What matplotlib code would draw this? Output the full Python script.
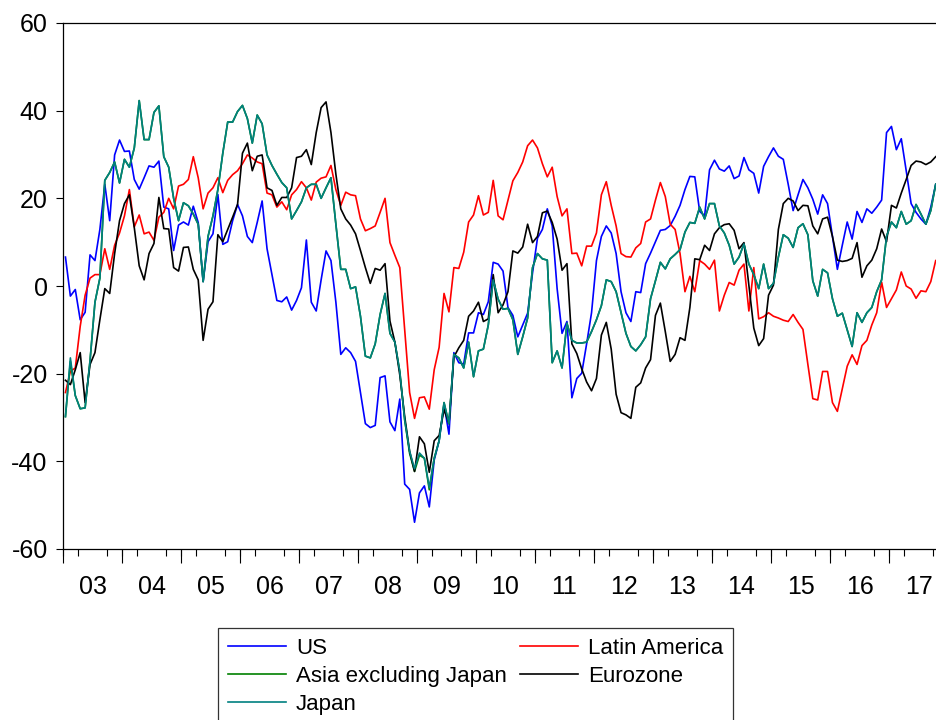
import numpy as np
import pandas as pd
import matplotlib
matplotlib.use("Agg")
import matplotlib.pyplot as plt
from matplotlib.ticker import FixedLocator, MultipleLocator, NullFormatter

plt.rcParams['font.family'] = ['Liberation Sans', 'DejaVu Sans']
plt.rcParams['axes.unicode_minus'] = False

# monthly readings, 2003m1 - 2017m10
start = '2003-01'

us = [6.6, -2.3, -0.8, -7.7, -6.0, 7.1, 5.8, 12.9, 23.2, 14.9, 29.9, 33.3, 30.7, 30.8, 24.3, 22.1, 24.7, 27.4, 27.1, 28.5, 18.0, 17.6,
      8.1, 13.9, 14.6, 13.9, 18.2, 14.5, 1.0, 10.1, 11.9, 20.9, 9.5, 10.1, 14.9, 18.6, 16.0, 11.3, 9.9, 14.5, 19.4, 8.5, 2.6, -3.3,
      -3.6, -2.5, -5.5, -3.3, -0.4, 10.5, -3.7, -5.7, 1.4, 8.0, 5.8, -3.7, -15.6, -14.1, -15.2, -17.2, -24.3, -31.4, -32.3, -31.8, -20.9, -20.5, -31.0,
      -33.0, -25.8, -45.2, -46.4, -53.9, -47.2, -45.6, -50.4, -39.7, -35.3, -27.0, -33.8, -15.2, -17.5, -17.8, -10.7, -10.7, -6.1, -6.5, -3.6, 5.4, 5.0,
      3.4, -4.9, -6.7, -11.6, -8.9, -6.2, 3.0, 10.9, 12.9, 17.6, 13.7, -0.6, -10.8, -8.1, -25.5, -21.1, -19.9, -13.2, -6.1, 5.8, 11.3, 13.7,
      12.1, 7.4, -1.3, -6.1, -8.1, -1.3, -1.5, 5.1, 7.5, 10.1, 12.7, 12.9, 13.8, 15.9, 18.4, 22.0, 25.0, 24.9, 17.0, 16.0, 26.5, 28.7, 26.7,
      26.2, 27.4, 24.5, 25.1, 29.3, 26.5, 25.7, 21.2, 27.3, 29.5, 31.5, 29.6, 28.9, 23.2, 17.2, 20.8, 24.3, 22.4, 19.8, 16.4, 20.8, 18.8,
      11.3, 3.8, 9.3, 14.6, 10.7, 17.0, 14.5, 17.6, 16.6, 18.0, 19.6, 35.0, 36.4, 31.1, 33.6, 26.3, 18.8, 16.8, 15.3, 14.1, 18.0, 23.2]

latam = [-24.3, -19.5, -18.7, -9.2, -2.1, 1.8, 2.6, 2.6, 8.5, 3.8, 9.3, 12.1, 16.0, 22.0, 13.5, 16.2, 11.9, 12.3, 10.4, 15.7, 16.8, 20.0,
         17.6, 22.8, 23.2, 24.3, 29.5, 24.7, 17.6, 21.2, 22.4, 24.7, 21.3, 24.1, 25.4, 26.3, 27.9, 29.9, 29.2, 28.3, 27.9, 21.2, 20.8, 18.0,
         19.2, 17.4, 20.8, 22.0, 23.8, 22.4, 19.6, 23.7, 24.6, 24.9, 27.5, 22.0, 18.4, 21.4, 20.8, 20.6, 15.3, 12.6, 13.1, 13.7, 16.8, 20.0, 9.9,
         7.0, 4.2, -10.0, -24.3, -30.2, -25.5, -25.3, -28.1, -19.1, -14.0, -1.7, -5.9, 4.2, 4.0, 7.7, 14.6, 16.2, 20.6, 16.2, 16.8, 24.1, 16.0,
         15.1, 19.6, 24.0, 25.9, 28.3, 32.0, 33.3, 31.5, 27.9, 24.9, 27.1, 20.4, 16.0, 17.6, 7.4, 7.5, 4.6, 9.1, 9.1, 12.1, 20.8, 23.8,
         18.4, 13.7, 7.4, 6.7, 6.6, 8.7, 9.7, 14.6, 15.3, 19.6, 23.6, 20.4, 14.1, 12.9, 7.4, -1.3, 2.2, -1.3, 5.8, 5.0, 3.8, 5.9, -5.7,
         -2.1, 0.8, 0.2, 3.6, 5.0, -5.7, 4.2, -7.5, -7.0, -6.1, -6.9, -7.3, -7.8, -8.1, -6.5, -8.3, -9.9, -17.9, -25.7, -26.0, -19.5, -19.5,
         -26.6, -28.6, -23.5, -18.3, -15.7, -17.9, -13.6, -12.4, -8.9, -6.1, 0.9, -4.9, -2.9, -0.9, 3.2, 0.0, -0.7, -2.8, -1.1, -1.3, 1.0, 5.8]

asia = [-29.8, -17.2, -25.0, -28.0, -27.8, -17.0, -3.7, 1.8, 24.1, 25.9, 28.3, 23.5, 28.9, 27.1, 31.5, 42.3, 33.4, 33.4, 39.6, 41.1, 29.5, 27.1,
        20.0, 14.9, 19.0, 18.3, 16.4, 14.1, 1.0, 11.3, 16.0, 22.0, 30.3, 37.4, 37.4, 39.8, 41.2, 38.2, 32.6, 39.0, 37.0, 29.9, 27.5, 25.5,
        23.6, 22.4, 15.3, 17.2, 19.2, 22.4, 23.2, 23.2, 20.0, 22.4, 24.7, 14.1, 3.8, 3.8, -0.6, -0.2, -6.9, -16.0, -16.4, -13.2, -6.5, -1.7, -10.8,
        -12.8, -19.5, -30.6, -38.2, -42.3, -38.6, -39.3, -46.5, -39.3, -35.3, -26.6, -31.4, -15.6, -16.4, -18.7, -12.8, -20.7, -14.8, -14.4, -8.9, 1.4, -3.0,
        -5.3, -5.1, -7.7, -15.6, -11.6, -7.3, 4.2, 7.4, 6.2, 5.9, -17.5, -14.8, -18.7, -8.5, -12.4, -13.0, -13.0, -12.8, -10.4, -7.7, -4.5, 1.4,
        1.0, -1.3, -6.1, -10.8, -13.8, -14.8, -13.4, -11.6, -2.9, 1.2, 5.4, 3.9, 6.2, 7.2, 8.3, 12.3, 14.5, 14.3, 18.0, 15.3, 18.8, 18.8, 13.7,
        12.1, 9.3, 5.0, 6.6, 9.6, 5.0, 2.6, -0.6, 5.0, -0.6, 0.6, 6.6, 11.7, 10.9, 8.8, 13.3, 14.2, 11.7, 1.2, -2.3, 3.8, 3.0,
        -2.9, -6.9, -6.2, -10.0, -13.8, -6.1, -8.3, -6.1, -4.9, -1.3, 1.4, 11.3, 14.6, 13.3, 17.0, 14.1, 14.9, 18.6, 16.4, 14.1, 17.2, 23.2]

eurozone = [-21.5, -22.5, -19.1, -15.2, -26.6, -17.9, -15.2, -7.7, -0.6, -1.7, 7.4, 14.9, 18.8, 20.8, 13.3, 4.6, 1.4, 7.4, 9.7, 20.2, 13.1, 13.0,
            4.2, 3.4, 8.8, 8.9, 3.8, 1.4, -12.4, -5.3, -3.6, 11.7, 10.1, 12.9, 15.7, 18.6, 30.3, 32.6, 26.3, 29.6, 29.9, 22.4, 21.8, 18.4,
            20.2, 20.2, 22.4, 29.3, 29.6, 31.1, 27.7, 35.0, 40.7, 42.0, 35.0, 25.5, 17.6, 15.3, 13.9, 11.9, 8.1, 4.2, 0.6, 4.0, 3.6, 5.1, -8.0,
            -12.8, -20.3, -29.8, -37.7, -42.3, -34.4, -36.0, -42.5, -35.3, -34.1, -28.2, -31.4, -16.2, -14.1, -12.4, -6.9, -5.7, -3.7, -8.1, -7.5, 2.6, -6.1,
            -4.3, -1.3, 8.0, 7.5, 8.9, 14.1, 9.9, 11.3, 16.7, 17.1, 14.5, 10.7, 3.6, 5.1, -13.2, -15.4, -18.9, -21.9, -23.9, -21.1, -11.2, -8.3,
            -14.4, -24.7, -28.9, -29.4, -30.2, -23.1, -22.1, -18.7, -16.8, -6.7, -3.9, -10.4, -17.2, -15.6, -11.8, -12.4, -4.9, 6.2, 6.0, 9.3, 8.1, 11.9, 13.3,
            14.0, 14.2, 12.7, 8.5, 9.9, 0.2, -9.6, -13.6, -12.0, -2.1, 0.2, 12.9, 18.8, 20.0, 19.4, 17.2, 18.4, 18.3, 13.7, 11.9, 15.3, 15.7,
            11.3, 5.9, 5.6, 5.8, 6.3, 9.9, 2.0, 4.6, 5.9, 8.5, 13.0, 10.1, 18.4, 17.8, 21.2, 24.3, 27.5, 28.5, 28.3, 27.7, 28.3, 29.5]

japan = [-29.8, -16.4, -25.0, -28.0, -27.8, -17.0, -3.7, 1.8, 24.1, 25.9, 28.3, 23.5, 28.9, 27.1, 31.5, 42.3, 33.4, 33.4, 39.6, 41.1, 29.5, 27.1,
         20.0, 14.9, 19.0, 18.3, 16.4, 14.1, 1.0, 11.3, 16.0, 22.0, 30.3, 37.4, 37.4, 39.8, 41.2, 38.2, 32.6, 39.0, 37.0, 29.9, 27.5, 25.5,
         23.6, 22.4, 15.3, 17.2, 19.2, 22.4, 23.2, 23.2, 20.0, 22.4, 24.7, 14.1, 3.8, 3.8, -0.6, -0.2, -6.9, -16.0, -16.4, -13.2, -6.5, -1.7, -10.8,
         -12.8, -19.5, -30.6, -37.7, -41.7, -38.1, -39.3, -46.0, -39.3, -35.3, -26.6, -31.4, -15.6, -16.4, -18.7, -12.8, -20.7, -14.8, -14.4, -8.9, 1.4, -3.0,
         -5.3, -5.1, -7.7, -15.6, -11.6, -7.3, 4.2, 7.4, 6.2, 5.9, -17.5, -14.8, -18.7, -8.5, -12.4, -13.0, -13.0, -12.8, -10.4, -7.7, -4.5, 1.4,
         1.0, -1.3, -6.1, -10.8, -13.8, -14.8, -13.4, -11.6, -2.9, 1.2, 5.4, 3.9, 6.2, 7.2, 8.3, 12.3, 14.5, 14.3, 18.0, 15.3, 18.8, 18.8, 13.7,
         12.1, 9.3, 5.0, 6.6, 9.6, 5.0, 2.6, -0.6, 5.0, -0.6, 0.6, 6.6, 11.7, 10.9, 8.8, 13.3, 14.2, 11.7, 1.2, -2.3, 3.8, 3.0,
         -2.9, -6.9, -6.2, -10.0, -13.8, -6.1, -8.3, -6.1, -4.9, -1.3, 1.4, 11.3, 14.6, 13.3, 17.0, 14.1, 14.9, 18.6, 16.4, 14.1, 17.2, 23.2]

months = pd.period_range(start, periods=len(us), freq='M')
# place each month in the middle of its slot on a fractional-year axis
t = months.year + (months.month - 0.5) / 12.0
t_end = months[-1].year + months[-1].month / 12.0

fig = plt.figure(figsize=(9.36, 7.2), dpi=100)
ax = fig.add_axes([63 / 936, 1 - 549 / 720, (t_end - 2003) * 59.0 / 936, 526 / 720])

lw = 1.2
l_us, = ax.plot(t, us, color='#0000ff', lw=lw, label='US')
l_la, = ax.plot(t, latam, color='#ff0000', lw=lw, label='Latin America')
l_as, = ax.plot(t, asia, color='#008000', lw=lw, label='Asia excluding Japan')
l_eu, = ax.plot(t, eurozone, color='#000000', lw=lw, label='Eurozone')
l_jp, = ax.plot(t, japan, color='#008080', lw=lw, label='Japan')

ax.set_xlim(2003, t_end)
ax.set_ylim(-60, 60)
ax.set_yticks(np.arange(-60, 61, 20))
ax.tick_params(axis='y', direction='out', length=5, width=0.8, pad=6, labelsize=18)

# year labels sit in the middle of each year, quarter ticks underneath
years = np.arange(2003, 2018)
ax.xaxis.set_major_locator(FixedLocator(years + 0.5))
ax.set_xticklabels(['%02d' % (y % 100) for y in years])
ax.xaxis.set_minor_locator(MultipleLocator(0.25))
ax.xaxis.set_minor_formatter(NullFormatter())
ax.tick_params(axis='x', which='major', length=0, pad=19, labelsize=18)
ax.tick_params(axis='x', which='minor', direction='out', length=5, width=0.8)

sec = ax.secondary_xaxis('bottom')
sec.set_xticks(years)
sec.set_xticklabels([])
sec.tick_params(direction='out', length=10, width=0.8)
sec.spines['bottom'].set_visible(False)

for s in ['left', 'top', 'bottom']:
    ax.spines[s].set_linewidth(0.9)
ax.spines['right'].set_visible(False)

leg = fig.legend([l_us, l_as, l_jp, l_la, l_eu],
                 ['US', 'Asia excluding Japan', 'Japan', 'Latin America', 'Eurozone'],
                 ncol=2, loc='upper left', bbox_to_anchor=(218 / 936, 1 - 628 / 720),
                 fontsize=16, frameon=True, fancybox=False, borderpad=0.45,
                 handlelength=2.6, handletextpad=0.45, labelspacing=0.32,
                 columnspacing=0.6, borderaxespad=0)
leg.get_frame().set_edgecolor('black')
leg.get_frame().set_linewidth(0.9)

fig.savefig('out.png', dpi=100)
